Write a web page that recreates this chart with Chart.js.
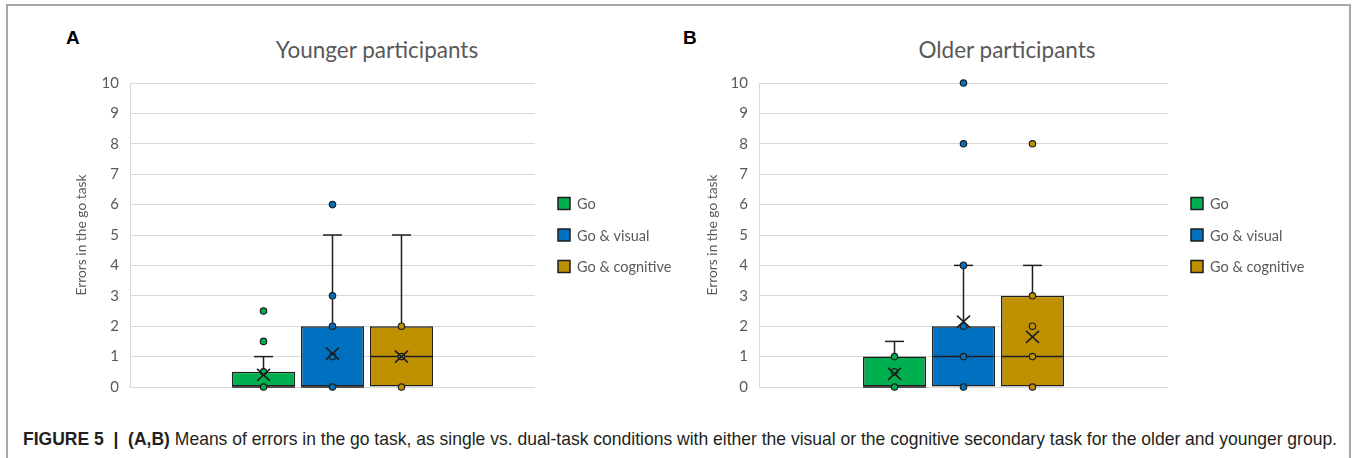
<!DOCTYPE html>
<html>
<head>
<meta charset="utf-8">
<script src="https://cdn.jsdelivr.net/npm/chart.js@4.4.1/dist/chart.umd.min.js"></script>
<style>
  html, body { margin: 0; padding: 0; background: #fff; }
  body { width: 1356px; height: 458px; position: relative; overflow: hidden; font-family: "Liberation Sans", Arial, sans-serif; }
  .frame { position: absolute; left: 6px; top: 4px; width: 1341px; height: 480px; border: 2px solid #a8a8a8; }
  .letter { position: absolute; font: bold 19px/1.2 "Liberation Sans", Arial, sans-serif; color: #000; }
  .title { position: absolute; font: 22.5px/1.2 Lato, sans-serif; color: #595959; transform: translateX(-50%); white-space: nowrap; }
  .panel { position: absolute; top: 63px; }
  .caption { position: absolute; left: 23px; top: 428px; white-space: nowrap; font-size: 18.5px; line-height: 1.2; color: #231f20; transform-origin: 0 0; }
  .caption b { font-weight: bold; }
</style>
</head>
<body>
<div class="frame"></div>

<div class="letter" style="left:66px; top:27px;">A</div>
<div class="title" style="left:377px; top:36px;">Younger participants</div>
<div class="panel" style="left:8px;"><canvas id="younger" width="672" height="344"></canvas></div>

<div class="letter" style="left:683px; top:27px;">B</div>
<div class="title" style="left:1007px; top:36px;">Older participants</div>
<div class="panel" style="left:690px;"><canvas id="older" width="660" height="344"></canvas></div>

<div class="caption" id="caption"><b>FIGURE 5 &nbsp;|&nbsp; (A,B)</b> Means of errors in the go task, as single vs. dual-task conditions with either the visual or the cognitive secondary task for the older and younger group.</div>

<script>
// Conditions and their fill colours
const groups = ['Go', 'Go & visual', 'Go & cognitive'];
const groupColors = ['#00b050', '#0070c0', '#bf9000'];
const yTicks = [0, 1, 2, 3, 4, 5, 6, 7, 8, 9, 10];

// Younger participants: box statistics per condition
const youngQ1 = [0, 0, 0];
const youngQ3 = [0.5, 2, 2];
const youngMedian = [0, 0, 1];
const youngWhiskerLow = [0, 0, 0];
const youngWhiskerHigh = [1, 5, 5];
const youngMean = [0.4, 1.1, 1.0];
const youngPoints = [[0, 0.5, 1.5, 2.5], [0, 1, 2, 3, 6], [0, 1, 2]];

// Older participants: box statistics per condition
const oldQ1 = [0, 0, 0];
const oldQ3 = [1, 2, 3];
const oldMedian = [0, 1, 1];
const oldWhiskerLow = [0, 0, 0];
const oldWhiskerHigh = [1.5, 4, 4];
const oldMean = [0.43, 2.15, 1.65];
const oldPoints = [[0, 0.5, 1], [0, 1, 2, 4, 8, 10], [0, 1, 2, 3, 8]];

const INK = '#1e1e1e';
const TEXT = '#595959';
const GRID = '#d9d9d9';

// Median, whiskers, data points and mean marker on top of each box
const boxDetails = {
  id: 'boxDetails',
  afterDatasetsDraw(chart) {
    const ctx = chart.ctx;
    const yS = chart.scales.y;
    chart.data.datasets.forEach((ds, i) => {
      const bar = chart.getDatasetMeta(i).data[0];
      const s = ds.stats;
      const x = bar.x, hw = bar.width / 2;
      const [q1, q3] = ds.data[0];
      const capHalf = 9.5;
      ctx.save();
      ctx.strokeStyle = INK;
      ctx.lineWidth = 1.5;
      ctx.lineCap = 'butt';
      const seg = (x1, y1, x2, y2) => { ctx.beginPath(); ctx.moveTo(x1, y1); ctx.lineTo(x2, y2); ctx.stroke(); };
      if (s.hi > q3) {
        const yq = yS.getPixelForValue(q3), yh = yS.getPixelForValue(s.hi);
        seg(x, yq, x, yh);
        seg(x - capHalf, yh, x + capHalf, yh);
      }
      if (s.lo < q1) {
        const yq = yS.getPixelForValue(q1), yl = yS.getPixelForValue(s.lo);
        seg(x, yq, x, yl);
        seg(x - capHalf, yl, x + capHalf, yl);
      }
      const ymed = yS.getPixelForValue(s.median);
      seg(x - hw, ymed, x + hw, ymed);
      // individual values
      ctx.lineWidth = 1.2;
      s.points.forEach(v => {
        const py = yS.getPixelForValue(v);
        ctx.beginPath();
        ctx.arc(x, py, 3.2, 0, Math.PI * 2);
        ctx.fillStyle = ds.backgroundColor;
        ctx.fill();
        ctx.stroke();
      });
      // mean marker
      const ym = yS.getPixelForValue(s.mean);
      ctx.lineWidth = 1.6;
      seg(x - 6.5, ym - 6, x + 6.5, ym + 6);
      seg(x - 6.5, ym + 6, x + 6.5, ym - 6);
      ctx.restore();
    });
  }
};

// Legend beside the plot area, vertically centred on it
const sideLegend = {
  id: 'sideLegend',
  afterDraw(chart, args, opts) {
    const ctx = chart.ctx;
    const a = chart.chartArea;
    const cy = (a.top + a.bottom) / 2;
    ctx.save();
    chart.data.datasets.forEach((ds, i) => {
      const y = cy + (i - 1) * opts.rowGap;
      const x = a.right + opts.gap;
      ctx.fillStyle = ds.backgroundColor;
      ctx.fillRect(x, y - 6, 12, 12);
      ctx.strokeStyle = INK;
      ctx.lineWidth = 1.5;
      ctx.strokeRect(x, y - 6, 12, 12);
      ctx.fillStyle = TEXT;
      ctx.font = '14.5px Lato, sans-serif';
      ctx.textBaseline = 'middle';
      ctx.textAlign = 'left';
      ctx.fillText(ds.label, x + 19, y + 1);
    });
    ctx.restore();
  }
};

function buildChart(canvasId, stats, layout) {
  const datasets = groups.map((g, i) => ({
    label: g,
    data: [[stats.q1[i], stats.q3[i]]],
    backgroundColor: groupColors[i],
    borderColor: INK,
    borderWidth: 1.5,
    borderSkipped: false,
    categoryPercentage: layout.categoryPercentage,
    barPercentage: layout.barPercentage,
    stats: {
      median: stats.median[i],
      lo: stats.lo[i],
      hi: stats.hi[i],
      mean: stats.mean[i],
      points: stats.points[i]
    }
  }));

  return new Chart(document.getElementById(canvasId), {
    type: 'bar',
    data: { labels: [''], datasets },
    plugins: [boxDetails, sideLegend],
    options: {
      responsive: false,
      animation: false,
      layout: { padding: { top: 0, bottom: 0, left: 0, right: layout.rightPad } },
      plugins: {
        legend: { display: false },
        tooltip: { enabled: false },
        sideLegend: { gap: 23, rowGap: 31.5 }
      },
      scales: {
        x: { display: false },
        y: {
          min: 0,
          max: 10,
          afterBuildTicks(scale) { scale.ticks = yTicks.map(v => ({ value: v })); },
          afterFit(scale) { scale.width = layout.axisWidth; },
          ticks: { color: TEXT, font: { family: 'Lato', size: 15 }, padding: 11 },
          grid: { color: GRID, lineWidth: 1, drawTicks: false },
          border: { display: true, color: GRID, width: 1 },
          title: {
            display: true,
            text: 'Errors in the go task',
            color: TEXT,
            font: { family: 'Lato', size: 13.8 },
            padding: { top: layout.titleOffset, bottom: 0 }
          }
        }
      }
    }
  });
}

buildChart('younger', {
  q1: youngQ1, q3: youngQ3, median: youngMedian, lo: youngWhiskerLow,
  hi: youngWhiskerHigh, mean: youngMean, points: youngPoints
}, { axisWidth: 122, rightPad: 145, titleOffset: 65, categoryPercentage: 0.511, barPercentage: 0.913 });

buildChart('older', {
  q1: oldQ1, q3: oldQ3, median: oldMedian, lo: oldWhiskerLow,
  hi: oldWhiskerHigh, mean: oldMean, points: oldPoints
}, { axisWidth: 69, rightPad: 182, titleOffset: 14, categoryPercentage: 0.506, barPercentage: 0.913 });

// Stretch the caption line to the figure's text width
const cap = document.getElementById('caption');
const w = cap.getBoundingClientRect().width;
cap.style.transform = 'scaleX(' + (1314 / w) + ')';
</script>
</body>
</html>
